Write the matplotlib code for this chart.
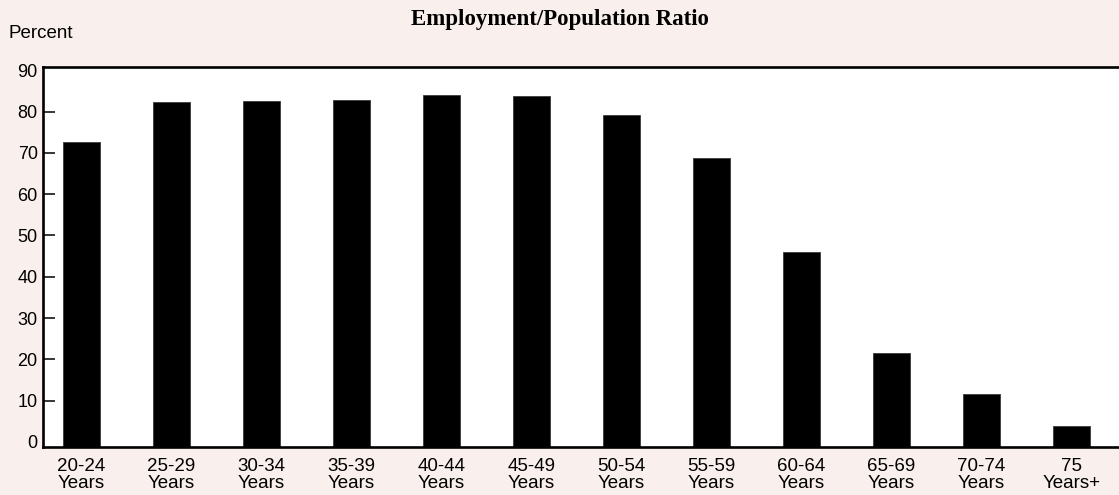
import matplotlib
matplotlib.use("Agg")
import matplotlib.pyplot as plt

# Employment/population ratio by age group (percent)
age_groups = ["20-24\nYears", "25-29\nYears", "30-34\nYears", "35-39\nYears",
              "40-44\nYears", "45-49\nYears", "50-54\nYears", "55-59\nYears",
              "60-64\nYears", "65-69\nYears", "70-74\nYears", "75\nYears+"]
ratio = [72.5, 82.3, 82.5, 82.7, 84.1, 83.8, 79.1, 68.8, 46.0, 21.6, 11.6, 3.8]
y_ticks = [0, 10, 20, 30, 40, 50, 60, 70, 80, 90]

W, H = 1119, 495
bg = "#f9efec"
sans = ["Liberation Sans", "DejaVu Sans"]

fig = plt.figure(figsize=(W / 100, H / 100), dpi=100, facecolor=bg)
ax = fig.add_axes([43.3 / W, (H - 446.7) / H, (W - 43.3) / W, (446.7 - 66.7) / H])
ax.set_facecolor("white")

ymin, ymax = -1.15, 90.85
x = list(range(len(ratio)))
ax.bar(x, [v - ymin for v in ratio], bottom=ymin, width=0.417,
       color="black", edgecolor="#3a3a3a", linewidth=0.6)

ax.set_xlim(-0.424, 11.53)
ax.set_ylim(ymin, ymax)

ax.set_xticks(x)
ax.set_xticklabels(age_groups, fontsize=13.5, family=sans, linespacing=1.0)
ax.set_yticks(y_ticks)
ax.set_yticklabels([str(t) for t in y_ticks], fontsize=13, family=sans)

ax.tick_params(axis="x", length=0, pad=8)
ax.tick_params(axis="y", direction="in", length=8.5, width=1.1, pad=4)
# the 0 and 90 marks fall on the frame lines
ax.yaxis.get_major_ticks()[0].tick1line.set_visible(False)
ax.yaxis.get_major_ticks()[-1].tick1line.set_visible(False)

for side in ("left", "top", "bottom"):
    ax.spines[side].set_linewidth(1.9)
    ax.spines[side].set_color("black")
ax.spines["right"].set_visible(False)

fig.text(560 / W, 1 - 19 / H, "Employment/Population Ratio",
         ha="center", va="center", fontsize=16.5, fontweight="bold",
         family=["Liberation Serif", "DejaVu Serif"])
fig.text(8 / W, 1 - 34 / H, "Percent", ha="left", va="center",
         fontsize=13.5, family=sans)

fig.savefig("out.png", dpi=100, facecolor=bg)
